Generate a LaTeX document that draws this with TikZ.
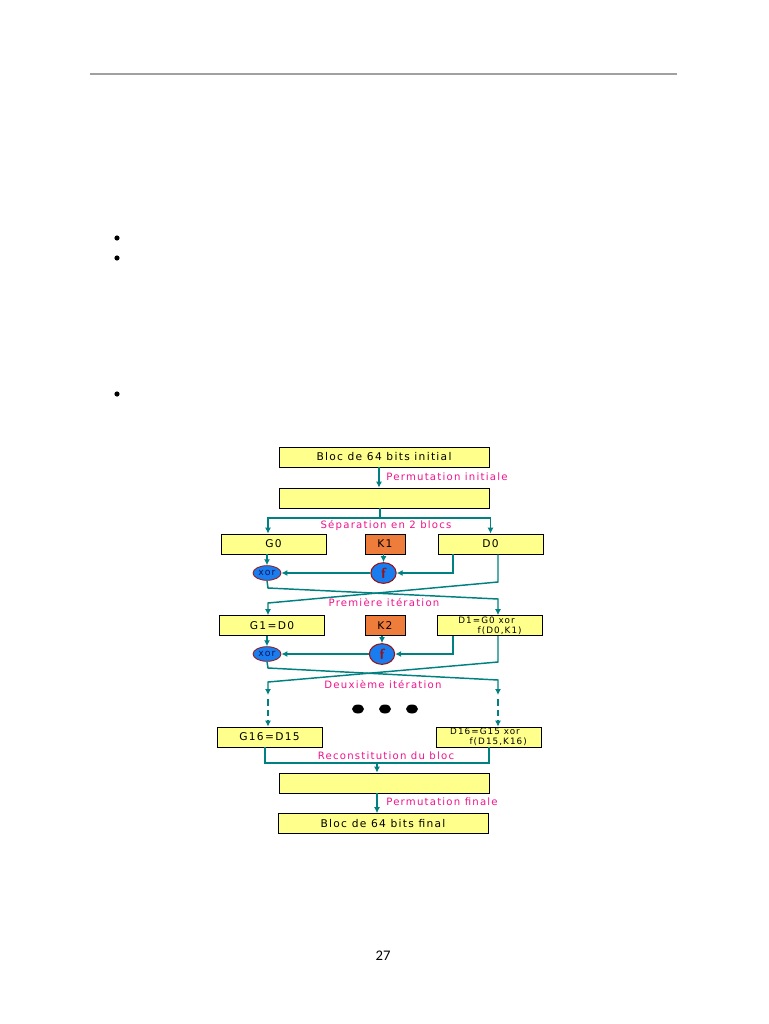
\documentclass[tikz,border=0pt]{standalone}
\usepackage{fontspec}
\usetikzlibrary{arrows.meta,shapes.geometric}
\newfontfamily\diagfont[LetterSpace=12]{DejaVu Sans}
\newfontfamily\pagefont{Carlito}
\definecolor{boxyellow}{RGB}{255,255,140}
\definecolor{keyorange}{RGB}{238,125,60}
\definecolor{linkteal}{RGB}{0,128,128}
\definecolor{opblue}{RGB}{25,125,240}
\definecolor{opred}{RGB}{150,20,20}
\definecolor{opnavy}{RGB}{20,20,90}
\definecolor{labelpink}{RGB}{240,20,140}
\definecolor{rulegray}{RGB}{160,160,160}

\begin{document}
\begin{tikzpicture}[
            x=0.75pt, y=-0.75pt,
            box/.style={rectangle, draw, line width=0.5pt, fill=boxyellow,
                       minimum height=15pt, inner sep=0pt, align=center,
                       font=\diagfont\fontsize{8}{9}\selectfont},
            wide/.style={box, minimum width=157.5pt},
            half/.style={box, minimum width=79pt},
            keybox/.style={box, fill=keyorange, minimum width=30pt},
            xorop/.style={ellipse, draw=opred, line width=0.6pt, fill=opblue,
                       minimum width=21pt, minimum height=11pt, inner sep=0pt,
                       text=opnavy, font=\diagfont\fontsize{7}{8}\selectfont},
            fop/.style={ellipse, draw=opred, line width=0.8pt, fill=opblue,
                       minimum width=19pt, minimum height=15.5pt, inner sep=0pt,
                       text=opred, font=\bfseries\sffamily\fontsize{11}{12}\selectfont},
            lbl/.style={text=labelpink, inner sep=0pt,
                       font=\diagfont\fontsize{7.6}{8.5}\selectfont},
            link/.style={draw=linkteal, line width=1.1pt},
            arrow/.style={link, -{Latex[length=4.5pt,width=4.5pt]}}
        ]
            \useasboundingbox[fill=white] (0,0) rectangle (768,1024);

            % Page rule, bullets and number
            \draw[rulegray, line width=1.5pt] (90,74) -- (677,74);
            \foreach \y in {238,258,394}
                \fill (117,\y) circle[radius=2.6];
            \node[font=\pagefont\fontsize{11}{13}\selectfont] (pagenum) at (383,956) {27};

            % Columns and bends
            \coordinate (colL) at (268,0);
            \coordinate (colM) at (453,0);
            \coordinate (colR) at (498,0);

            % Initial block
            \node[wide] (init) at (384,457) {Bloc de 64 bits initial};
            \node[wide] (perm1) at (384.5,498) {};
            \node[lbl] (permini) at (447,477) {Permutation initiale};
            \coordinate (px1) at (379,0);
            \draw[arrow] (init.south -| px1) -- (perm1.north -| px1);

            % Split
            \node[half] (G0) at (273.5,544) {G0};
            \node[keybox] (K1) at (385,544) {K1};
            \node[half] (D0) at (490.5,544) {D0};
            \node[lbl] (split) at (386,525) {Séparation en 2 blocs};
            \coordinate (jS) at (380,518);
            \draw[link] (perm1.south -| jS) -- (jS);
            \draw[arrow] (jS) -| (G0.north -| colL);
            \draw[arrow] (jS) -| (D0.north);

            % First round
            \node[xorop] (xor1) at (267,573) {xor};
            \node[fop] (f1) at (383.5,573) {f};
            \draw[arrow] (G0.south -| xor1) -- (xor1.north);
            \draw[arrow] (K1.south -| f1) -- (f1.north);
            \draw[arrow] (D0.south -| colM) |- (f1.east);
            \draw[arrow] (f1.west) -- (xor1.east);

            \coordinate (a1) at (268,588);
            \coordinate (a2) at (498,599);
            \coordinate (b1) at (498,582);
            \coordinate (b2) at (268,603);
            \node[half] (G1) at (272,625.5) {G1=D0};
            \node[keybox] (K2) at (385,625.5) {K2};
            \node[half, font=\diagfont\fontsize{6.6}{7.3}\selectfont, align=left]
                (D1) at (490,625.5) {D1=G0 xor\\\hspace*{2.2em}f(D0,K1)};
            \node[lbl] (iter1) at (384,603) {Première itération};
            \draw[arrow] (xor1.south) -- (a1) -- (a2) -- (D1.north -| colR);
            \draw[arrow] (D0.south -| colR) -- (b1) -- (b2) -- (G1.north -| colL);

            % Second round
            \node[xorop] (xor2) at (267,654) {xor};
            \node[fop] (f2) at (382,654) {f};
            \draw[arrow] (G1.south -| xor2) -- (xor2.north);
            \draw[arrow] (K2.south -| f2) -- (f2.north);
            \draw[arrow] (D1.south -| colM) |- (f2.east);
            \draw[arrow] (f2.west) -- (xor2.east);

            \coordinate (a3) at (268,668);
            \coordinate (a4) at (498,680);
            \coordinate (b3) at (498,662);
            \coordinate (b4) at (268,682);
            \coordinate (e1) at (268,695);
            \coordinate (e2) at (498,695);
            \node[lbl] (iter2) at (383,685) {Deuxième itération};
            \draw[arrow] (xor2.south) -- (a3) -- (a4) -- (e2);
            \draw[arrow] (D1.south -| colR) -- (b3) -- (b4) -- (e1);

            % Remaining rounds
            \foreach \x in {358,385,412}
                \fill (\x,709) ellipse[x radius=6, y radius=4.5];
            \node[half] (G16) at (269.5,737) {G16=D15};
            \node[half, font=\diagfont\fontsize{6.6}{7.3}\selectfont, align=left]
                (D16) at (488.5,737) {D16=G15 xor\\\hspace*{2.2em}f(D15,K16)};
            \coordinate (s1) at (268,699);
            \coordinate (s2) at (498,699);
            \draw[arrow, dash pattern=on 5pt off 3pt] (s1) -- (G16.north -| colL);
            \draw[arrow, dash pattern=on 5pt off 3pt] (s2) -- (D16.north -| colR);

            % Rebuild and final permutation
            \node[wide] (recon) at (384,783) {};
            \node[wide] (final) at (383,823.5) {Bloc de 64 bits final};
            \node[lbl] (rebuild) at (386,756) {Reconstitution du bloc};
            \node[lbl] (permfin) at (442,802) {Permutation finale};
            \coordinate (lx) at (265,0);
            \coordinate (rx) at (489,0);
            \coordinate (jR) at (377,763);
            \draw[link] (G16.south -| lx) |- (jR) -| (D16.south -| rx);
            \draw[arrow] (jR) -- (recon.north -| jR);
            \draw[arrow] (recon.south -| jR) -- (final.north -| jR);
        \end{tikzpicture}
\end{document}
